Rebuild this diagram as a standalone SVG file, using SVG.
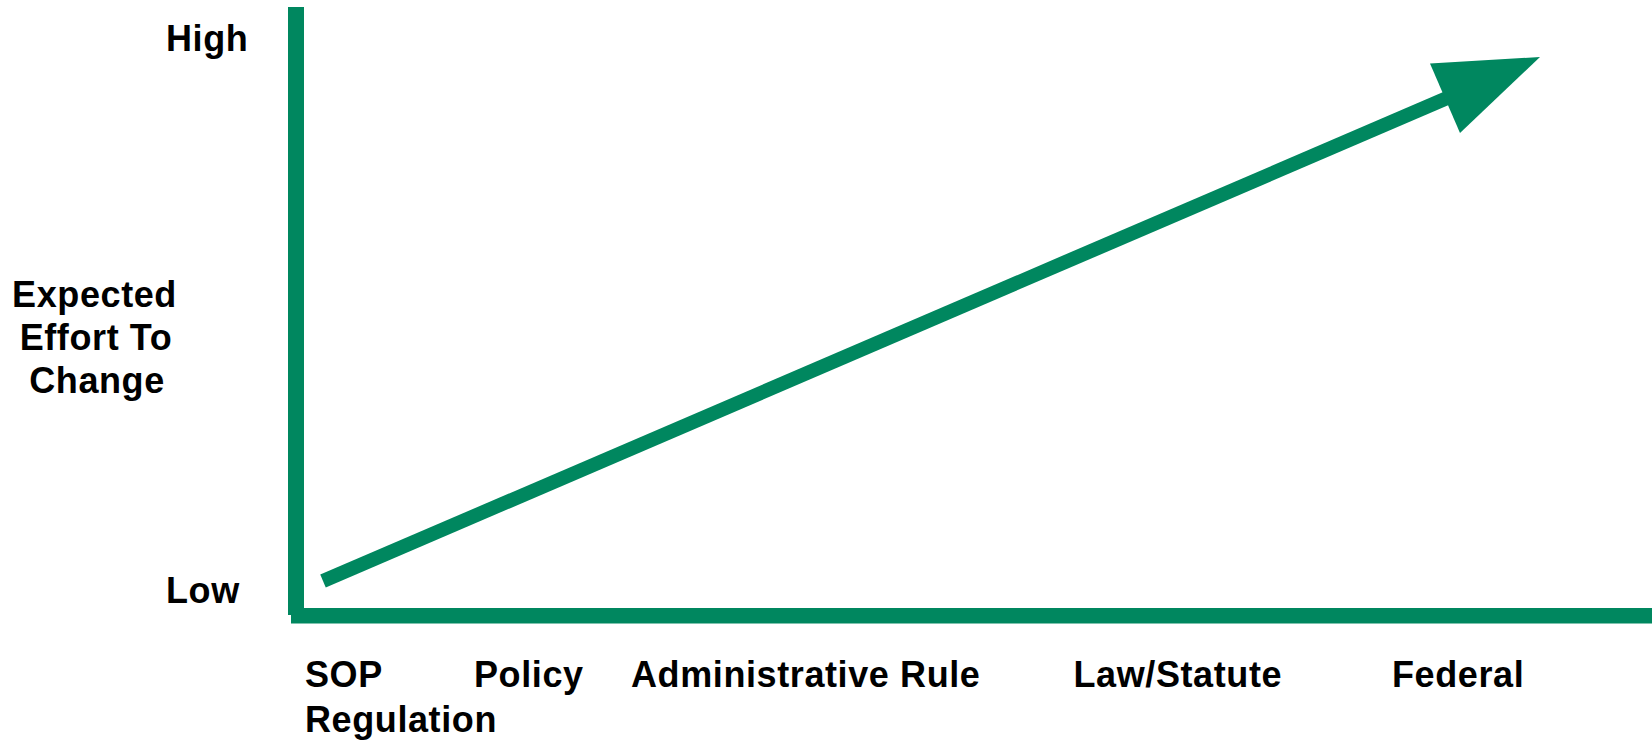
<svg xmlns="http://www.w3.org/2000/svg" width="1652" height="740" viewBox="0 0 1652 740">
<style>
.t{font-family:"Liberation Sans",Arial,sans-serif;font-weight:bold;font-size:36px;letter-spacing:0.6px;fill:#000}
.ax{fill:#00875F}
</style>
<rect width="1652" height="740" fill="#fff"/>
<g id="axes">
<rect class="ax" x="288" y="7" width="16" height="608"/>
<rect class="ax" x="291" y="608" width="1361" height="15.5"/>
</g>
<g id="connectors">
<line x1="323" y1="581" x2="1446" y2="98.5" stroke="#00875F" stroke-width="14"/>
<polygon class="ax" points="1540,57 1430,63.5 1460,133"/>
</g>
<g id="y-labels">
<text class="t" x="166" y="50.5">High</text>
<text class="t" x="166" y="603">Low</text>
<text class="t" text-anchor="middle" x="94.5" y="306.5">Expected</text>
<text class="t" text-anchor="middle" x="96" y="349.5">Effort To</text>
<text class="t" text-anchor="middle" x="97" y="392.5">Change</text>
</g>
<g id="x-labels">
<text class="t" x="305" y="687">SOP</text>
<text class="t" x="305" y="731.5">Regulation</text>
<text class="t" x="474" y="687">Policy</text>
<text class="t" x="631" y="687">Administrative Rule</text>
<text class="t" x="1073.5" y="687">Law/Statute</text>
<text class="t" x="1392" y="687">Federal</text>
</g>
</svg>
